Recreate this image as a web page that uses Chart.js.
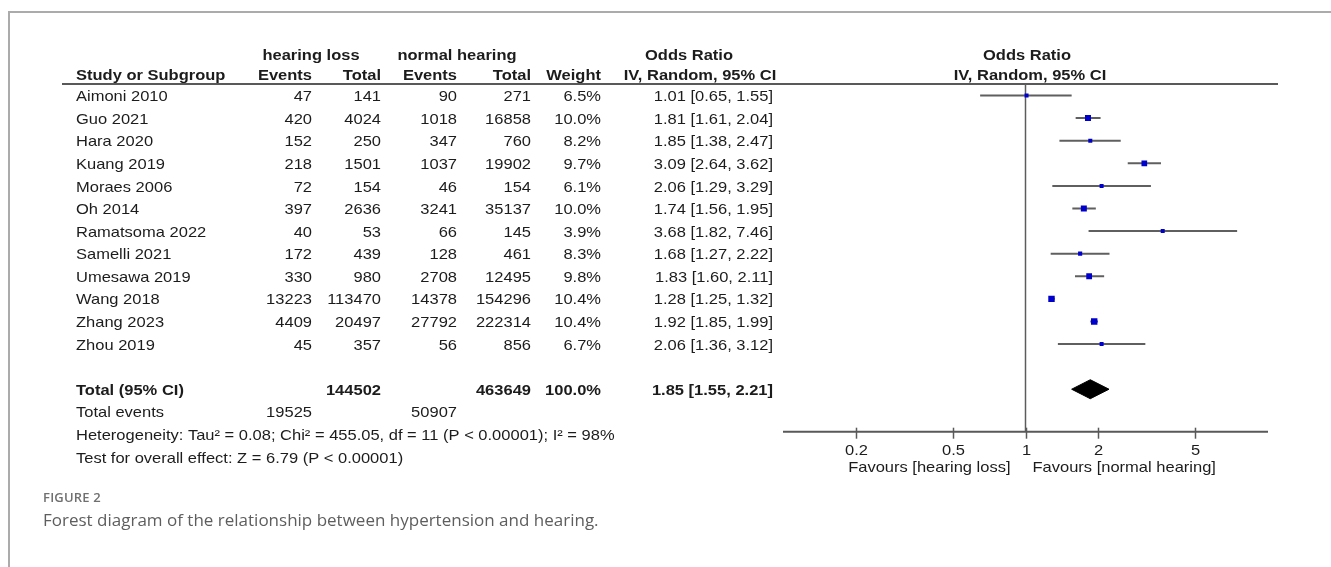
<!DOCTYPE html>
<html>
<head>
<meta charset="utf-8">
<title>Forest plot: hypertension and hearing</title>
<script src="https://cdn.jsdelivr.net/npm/chart.js@4.4.1/dist/chart.umd.min.js"></script>
<style>
  html, body { margin: 0; padding: 0; background: #ffffff; }
  body { width: 1331px; height: 567px; position: relative; overflow: hidden; }
  #frame {
    position: absolute; left: 8px; top: 11px; right: -4px; bottom: -4px;
    border-top: 2px solid #ababab; border-left: 2px solid #ababab;
  }
  #plotWrap { position: absolute; left: 0; top: 0; width: 1331px; height: 567px; }
  .fig-label {
    position: absolute; left: 43px; top: 488px;
    font-family: "Open Sans", "Noto Sans", sans-serif; font-size: 13px; font-weight: 600;
    color: #707070; letter-spacing: 0.2px;
  }
  .fig-caption {
    position: absolute; left: 43px; top: 508px;
    font-family: "Open Sans", "Noto Sans", sans-serif; font-size: 17px; font-weight: 400;
    color: #5e5e5e;
  }
</style>
</head>
<body>
<div id="frame"></div>
<div id="plotWrap"><canvas id="forest"></canvas></div>
<div class="fig-label">FIGURE 2</div>
<div class="fig-caption">Forest diagram of the relationship between hypertension and hearing.</div>

<script>
// ---- study data ----
const studies = ['Aimoni 2010', 'Guo 2021', 'Hara 2020', 'Kuang 2019', 'Moraes 2006', 'Oh 2014',
  'Ramatsoma 2022', 'Samelli 2021', 'Umesawa 2019', 'Wang 2018', 'Zhang 2023', 'Zhou 2019'];
const lossEvents   = [47, 420, 152, 218, 72, 397, 40, 172, 330, 13223, 4409, 45];
const lossTotal    = [141, 4024, 250, 1501, 154, 2636, 53, 439, 980, 113470, 20497, 357];
const normalEvents = [90, 1018, 347, 1037, 46, 3241, 66, 128, 2708, 14378, 27792, 56];
const normalTotal  = [271, 16858, 760, 19902, 154, 35137, 145, 461, 12495, 154296, 222314, 856];
const weights      = [6.5, 10.0, 8.2, 9.7, 6.1, 10.0, 3.9, 8.3, 9.8, 10.4, 10.4, 6.7];
const oddsRatio    = [1.01, 1.81, 1.85, 3.09, 2.06, 1.74, 3.68, 1.68, 1.83, 1.28, 1.92, 2.06];
const ciLower      = [0.65, 1.61, 1.38, 2.64, 1.29, 1.56, 1.82, 1.27, 1.60, 1.25, 1.85, 1.36];
const ciUpper      = [1.55, 2.04, 2.47, 3.62, 3.29, 1.95, 7.46, 2.22, 2.11, 1.32, 1.99, 3.12];

// ---- pooled result ----
const pooledOR = 1.85, pooledLower = 1.55, pooledUpper = 2.21;
const pooledLossTotal = 144502, pooledNormalTotal = 463649, pooledWeight = 100.0;
const pooledLossEvents = 19525, pooledNormalEvents = 50907;
const heterogeneityText = 'Heterogeneity: Tau\u00b2 = 0.08; Chi\u00b2 = 455.05, df = 11 (P < 0.00001); I\u00b2 = 98%';
const overallEffectText = 'Test for overall effect: Z = 6.79 (P < 0.00001)';

// ---- axis ----
const axisTicks = [0.2, 0.5, 1, 2, 5];
const axisMin = 0.1, axisMax = 10;
const favoursLeft = 'Favours [hearing loss]';
const favoursRight = 'Favours [normal hearing]';

// ---- layout ----
const ROW_TOP = -0.51;     // header rule
const ROW_AXIS = 14.88;    // x axis line
const ROW_TOTAL = 13, ROW_EVENTS = 14, ROW_HET = 15, ROW_TEST = 16;
const DIAMOND_HALF = 0.42; // half height of pooled diamond, in rows
const FONT_PX = 15, TEXT_SX = 1.1, TEXT_DY = 1.5;
const TEXT_COLOR = '#1c1c1c';
const COL = { study: 76, lossEv: 312, lossTot: 381, normEv: 457, normTot: 531, weight: 601, ci: 773 };
const RULE_LEFT = 62, RULE_RIGHT = 1278;

function fmtCI(est, lo, hi) {
  return est.toFixed(2) + ' [' + lo.toFixed(2) + ', ' + hi.toFixed(2) + ']';
}

function put(ctx, str, px, py, align, bold) {
  ctx.save();
  ctx.font = (bold ? 'bold ' : '') + FONT_PX + 'px "Liberation Sans", Arial, sans-serif';
  ctx.fillStyle = TEXT_COLOR;
  ctx.textBaseline = 'middle';
  ctx.textAlign = align;
  ctx.translate(px, py);
  ctx.scale(TEXT_SX, 1);
  ctx.fillText(str, 0, 0);
  ctx.restore();
}

// Table columns, header rule and the odds-ratio axis
const forestTable = {
  id: 'forestTable',
  beforeDatasetsDraw(chart) {
    const { ctx, scales: { x, y } } = chart;
    const top = y.getPixelForValue(ROW_TOP);
    ctx.save();
    ctx.strokeStyle = '#595959';
    ctx.lineWidth = 2;
    ctx.beginPath();
    ctx.moveTo(RULE_LEFT, top);
    ctx.lineTo(RULE_RIGHT, top);
    ctx.stroke();

    // x axis
    const ay = y.getPixelForValue(ROW_AXIS);
    ctx.beginPath();
    ctx.moveTo(x.getPixelForValue(axisMin), ay);
    ctx.lineTo(x.getPixelForValue(axisMax), ay);
    ctx.stroke();
    ctx.lineWidth = 1.5;
    axisTicks.forEach(t => {
      const px = Math.round(x.getPixelForValue(t)) + 0.5;
      ctx.beginPath();
      ctx.moveTo(px, ay - 4);
      ctx.lineTo(px, ay + 7);
      ctx.stroke();
      put(ctx, String(t), px, ay + 19, 'center', false);
    });
    const one = x.getPixelForValue(1);
    put(ctx, favoursLeft, one - 15, ay + 36, 'right', false);
    put(ctx, favoursRight, one + 7, ay + 36, 'left', false);
    ctx.restore();
  },
  afterDraw(chart) {
    const { ctx, scales: { x, y } } = chart;
    const h1 = 56, h2 = 76;
    put(ctx, 'hearing loss', 311, h1, 'center', true);
    put(ctx, 'normal hearing', 457, h1, 'center', true);
    put(ctx, 'Odds Ratio', 689, h1, 'center', true);
    put(ctx, 'Odds Ratio', 1027, h1, 'center', true);

    put(ctx, 'Study or Subgroup', COL.study, h2, 'left', true);
    put(ctx, 'Events', COL.lossEv, h2, 'right', true);
    put(ctx, 'Total', COL.lossTot, h2, 'right', true);
    put(ctx, 'Events', COL.normEv, h2, 'right', true);
    put(ctx, 'Total', COL.normTot, h2, 'right', true);
    put(ctx, 'Weight', COL.weight, h2, 'right', true);
    put(ctx, 'IV, Random, 95% CI', 700, h2, 'center', true);
    put(ctx, 'IV, Random, 95% CI', 1030, h2, 'center', true);

    studies.forEach((name, i) => {
      const py = y.getPixelForValue(i) + TEXT_DY;
      put(ctx, name, COL.study, py, 'left', false);
      put(ctx, String(lossEvents[i]), COL.lossEv, py, 'right', false);
      put(ctx, String(lossTotal[i]), COL.lossTot, py, 'right', false);
      put(ctx, String(normalEvents[i]), COL.normEv, py, 'right', false);
      put(ctx, String(normalTotal[i]), COL.normTot, py, 'right', false);
      put(ctx, weights[i].toFixed(1) + '%', COL.weight, py, 'right', false);
      put(ctx, fmtCI(oddsRatio[i], ciLower[i], ciUpper[i]), COL.ci, py, 'right', false);
    });

    const pt = y.getPixelForValue(ROW_TOTAL) + TEXT_DY;
    put(ctx, 'Total (95% CI)', COL.study, pt, 'left', true);
    put(ctx, String(pooledLossTotal), COL.lossTot, pt, 'right', true);
    put(ctx, String(pooledNormalTotal), COL.normTot, pt, 'right', true);
    put(ctx, pooledWeight.toFixed(1) + '%', COL.weight, pt, 'right', true);
    put(ctx, fmtCI(pooledOR, pooledLower, pooledUpper), COL.ci, pt, 'right', true);

    const pe = y.getPixelForValue(ROW_EVENTS) + TEXT_DY;
    put(ctx, 'Total events', COL.study, pe, 'left', false);
    put(ctx, String(pooledLossEvents), COL.lossEv, pe, 'right', false);
    put(ctx, String(pooledNormalEvents), COL.normEv, pe, 'right', false);
    put(ctx, heterogeneityText, COL.study, y.getPixelForValue(ROW_HET) + TEXT_DY, 'left', false);
    put(ctx, overallEffectText, COL.study, y.getPixelForValue(ROW_TEST) + TEXT_DY, 'left', false);
  }
};

// Datasets: reference line at OR = 1, confidence intervals, study squares, pooled diamond
const ciSets = studies.map((name, i) => ({
  type: 'line',
  label: name + ' 95% CI',
  data: [{ x: ciLower[i], y: i }, { x: ciUpper[i], y: i }],
  borderColor: '#5f5f5f',
  borderWidth: 2,
  pointRadius: 0,
  order: 3
}));

const datasets = [
  {
    type: 'line',
    label: 'No effect',
    data: [{ x: 1, y: ROW_TOP }, { x: 1, y: ROW_AXIS }],
    borderColor: '#5c5c5c',
    borderWidth: 1.5,
    pointRadius: 0,
    order: 4
  },
  ...ciSets,
  {
    type: 'scatter',
    label: 'Odds ratio',
    data: studies.map((s, i) => ({ x: oddsRatio[i], y: i })),
    pointStyle: 'rect',
    pointRadius: c => Math.max(4, 1.1 * weights[c.dataIndex] - 5) / Math.SQRT2,
    backgroundColor: '#0000cc',
    borderWidth: 0,
    order: 1
  },
  {
    type: 'line',
    label: 'Total (95% CI)',
    data: [
      { x: pooledLower, y: ROW_TOTAL },
      { x: pooledOR, y: ROW_TOTAL - DIAMOND_HALF },
      { x: pooledUpper, y: ROW_TOTAL },
      { x: pooledOR, y: ROW_TOTAL + DIAMOND_HALF },
      { x: pooledLower, y: ROW_TOTAL }
    ],
    borderColor: '#000000',
    backgroundColor: '#000000',
    borderWidth: 1,
    pointRadius: 0,
    fill: 'shape',
    order: 0
  }
];

new Chart(document.getElementById('forest'), {
  type: 'scatter',
  data: { datasets },
  options: {
    responsive: true,
    maintainAspectRatio: false,
    animation: false,
    devicePixelRatio: 1,
    layout: { padding: { left: 783, right: 63, top: 84, bottom: 135.3 } },
    scales: {
      x: { type: 'logarithmic', min: axisMin, max: axisMax, display: false },
      y: { type: 'linear', min: ROW_TOP, max: ROW_AXIS, reverse: true, display: false }
    },
    plugins: {
      legend: { display: false },
      tooltip: { enabled: false }
    }
  },
  plugins: [forestTable]
});
</script>
</body>
</html>
